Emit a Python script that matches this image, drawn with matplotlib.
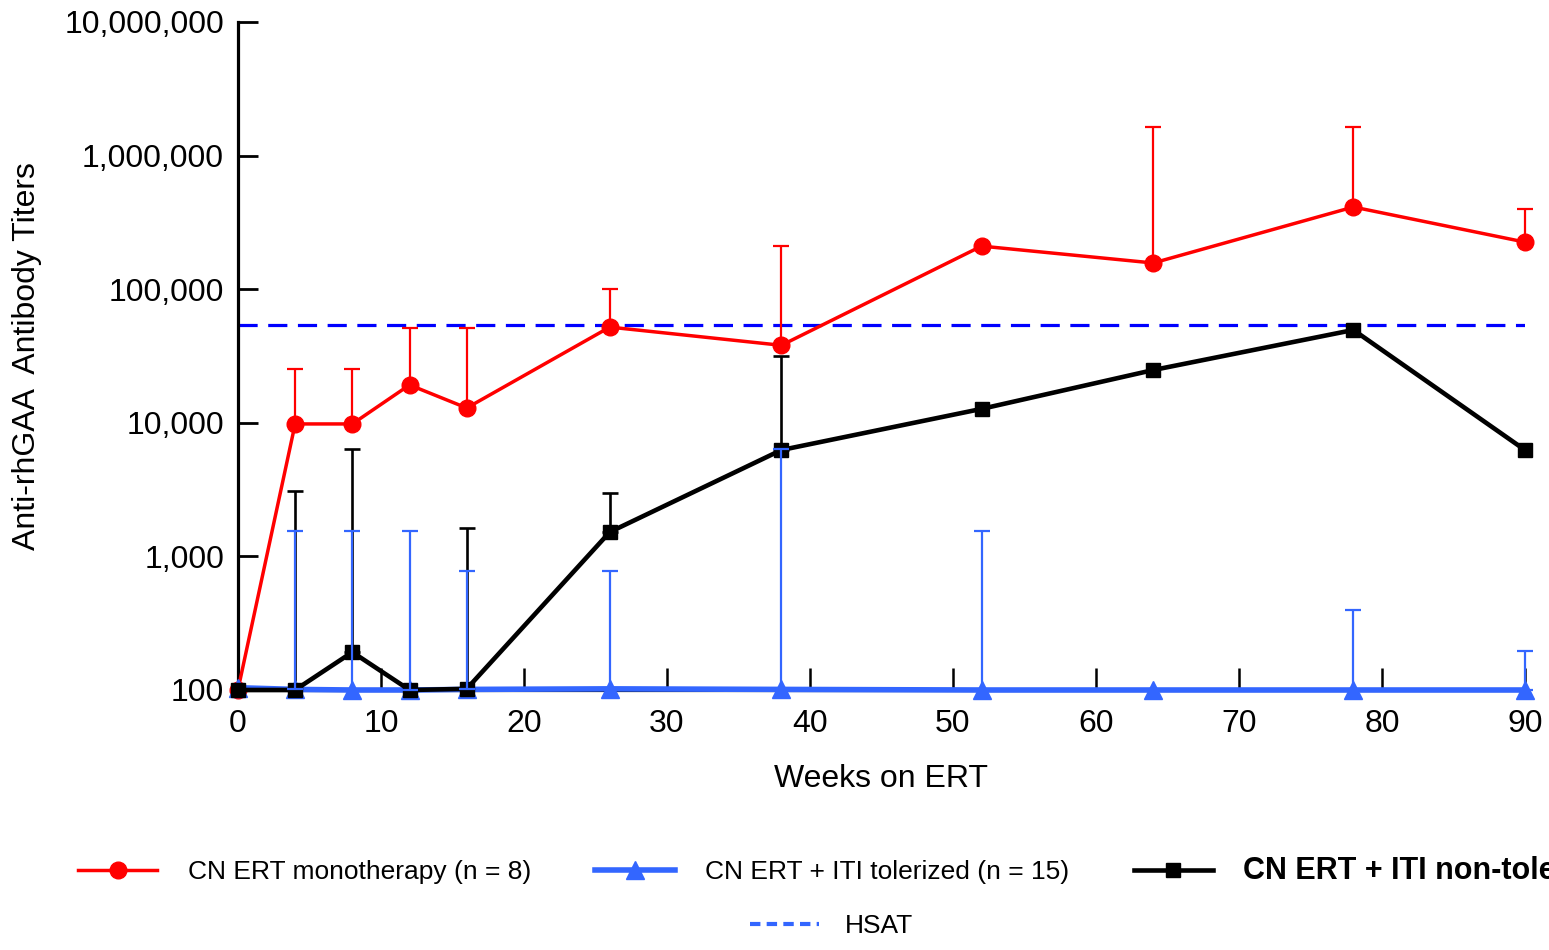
import numpy as np
import matplotlib.pyplot as plt
from matplotlib.ticker import FixedLocator, FuncFormatter, NullLocator

plt.rcParams['font.family'] = ['Liberation Sans', 'DejaVu Sans']

# data (weeks on ERT / titers)
weeks = [0, 4, 8, 12, 16, 26, 38, 52, 64, 78, 90]
mono = [100, 9800, 9800, 19200, 12900, 52000, 38000, 210000, 157000, 412000, 225000]
mono_top = [np.nan, 25300, 25300, 51000, 51000, 100000, 210000, np.nan, 1640000, 1640000, 400000]
tol = [104, 101, 100, 100, 101, 102, 101, 100, 100, 100, 100]
tol_top = [np.nan, 1550, 1550, 1550, 780, 780, 6350, 1550, np.nan, 397, 196]
nontol = [100, 100, 192, 100, 102, 1520, 6250, 12700, 24800, 49500, 6250]
nontol_top = [np.nan, 3100, 6370, np.nan, 1630, 2990, 31600, np.nan, np.nan, np.nan, np.nan]
hsat = 54000

labels = ['CN ERT monotherapy (n = 8)', 'CN ERT + ITI tolerized (n = 15)',
          'CN ERT + ITI non-tolerized (n = 7)', 'HSAT']
xticks = list(range(0, 91, 10))
yticks = [1e2, 1e3, 1e4, 1e5, 1e6, 1e7]

RED = '#FF0000'
BLUE = '#3366FF'
DBLUE = '#0000FF'


def upper_err(x, y, top):
    x = np.array(x, float); y = np.array(y, float); top = np.array(top, float)
    m = ~np.isnan(top)
    return x[m], y[m], top[m] - y[m]


fig = plt.figure(figsize=(15.49, 9.5), dpi=100)
ax = fig.add_axes([0.1536, 0.2737, 0.8309, 0.7032])

ax.hlines(hsat, weeks[0], weeks[-1], color=DBLUE, lw=2.3, linestyles=(0, (6.0, 3.3)), zorder=1)

ex, ey, ee = upper_err(weeks, mono, mono_top)
ax.errorbar(ex, ey, yerr=[np.zeros_like(ee), ee], fmt='none', ecolor=RED,
            elinewidth=1.6, capsize=6, capthick=1.6, zorder=2, clip_on=False)
l1, = ax.plot(weeks, mono, color=RED, lw=2.5, marker='o', ms=12, zorder=3, clip_on=False)

ex, ey, ee = upper_err(weeks, nontol, nontol_top)
ax.errorbar(ex, ey, yerr=[np.zeros_like(ee), ee], fmt='none', ecolor='black',
            elinewidth=1.9, capsize=6, capthick=1.9, zorder=4, clip_on=False)

l2, = ax.plot(weeks, tol, color=BLUE, lw=4, marker='^', ms=13, zorder=5, clip_on=False)
l3, = ax.plot(weeks, nontol, color='black', lw=3.3, marker='s', ms=10.5, zorder=6, clip_on=False)

ex, ey, ee = upper_err(weeks, tol, tol_top)
ax.errorbar(ex, ey, yerr=[np.zeros_like(ee), ee], fmt='none', ecolor=BLUE,
            elinewidth=1.6, capsize=6, capthick=1.6, zorder=7, clip_on=False)

ax.set_yscale('log')
ax.set_ylim(100, 1e7)
ax.set_xlim(0, 90)
ax.xaxis.set_major_locator(FixedLocator(xticks))
ax.yaxis.set_major_locator(FixedLocator(yticks))
ax.yaxis.set_minor_locator(NullLocator())
ax.yaxis.set_major_formatter(FuncFormatter(lambda v, p: f'{v:,.0f}'))
ax.tick_params(axis='x', direction='in', length=16, width=1.8, labelsize=23, pad=14)
ax.tick_params(axis='y', direction='in', length=14.5, width=2, labelsize=23, pad=10)
for s in ['top', 'right']:
    ax.spines[s].set_visible(False)
ax.spines['left'].set_linewidth(2.3)
ax.spines['bottom'].set_linewidth(2.3)

ax.set_xlabel('Weeks on ERT', fontsize=23, labelpad=18)
ax.set_ylabel('Anti-rhGAA  Antibody Titers', fontsize=23, labelpad=16)

leg = fig.legend([l1, l2, l3], labels[:3], loc='center left', ncol=3,
                 bbox_to_anchor=(78 / 1549, 1 - 871 / 950), frameon=False,
                 fontsize=19, handlelength=3.0, handletextpad=1.15,
                 columnspacing=2.45, borderpad=0, borderaxespad=0)
t = leg.get_texts()[2]
t.set_fontweight('bold')
t.set_fontsize(22)

hl, = ax.plot([], [], color=BLUE, lw=3, linestyle=(0, (2.5, 1.5)))
fig.legend([hl], labels[3:], loc='center left', bbox_to_anchor=(750 / 1549, 1 - 926 / 950),
           frameon=False, fontsize=19, handlelength=2.6, handletextpad=1.0,
           borderpad=0, borderaxespad=0)

fig.savefig('out.png', dpi=100)
